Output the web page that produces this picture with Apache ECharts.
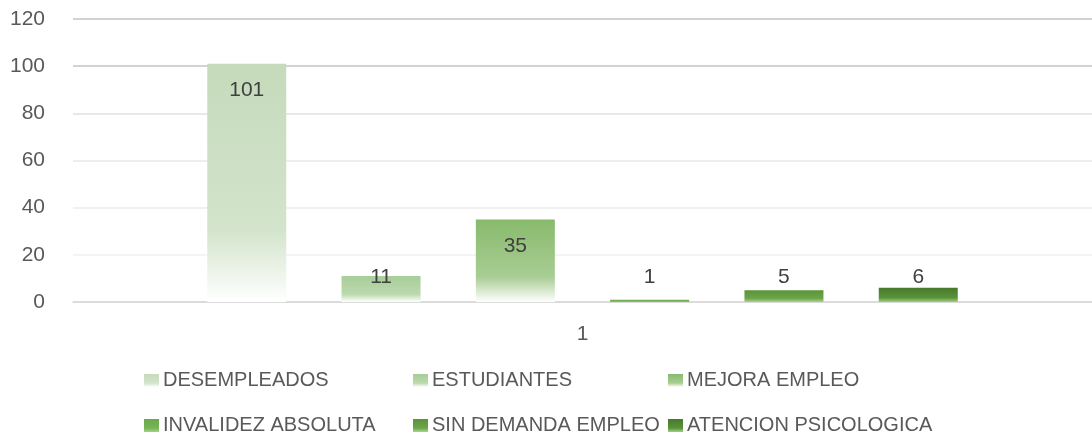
<!DOCTYPE html>
<html>
<head>
<meta charset="UTF-8">
<title></title>
<script src="https://cdn.jsdelivr.net/npm/echarts@6/dist/echarts.min.js"></script>
<style type="text/css">
	html, body { margin: 0; padding: 0; background: #fff; }
	#chart { width: 1092px; height: 434px; }
</style>
</head>
<body>
<div id="chart"></div>
<script type="text/javascript">
var categories = ['1'];
var seriesNames = ['DESEMPLEADOS', 'ESTUDIANTES', 'MEJORA EMPLEO', 'INVALIDEZ ABSOLUTA', 'SIN DEMANDA EMPLEO', 'ATENCION PSICOLOGICA'];
var seriesValues = [101, 11, 35, 1, 5, 6];
var yTicks = [0, 20, 40, 60, 80, 100, 120];

// gradient colours, top -> bottom
var fills = [
	['#c5dbbb', '#d3e4cc', '#ffffff'],
	['#a7cd98', '#bbd9ad', '#ffffff'],
	['#88ba6c', '#a9cd94', '#ffffff'],
	['#6aa84a', '#78b457', '#a2d48a'],
	['#5a9438', '#6ea44a', '#a6d78c'],
	['#477a2c', '#5a9239', '#9fd283']
];
var gridColors = ['#d9d9d9', '#f0f0f0', '#ededed', '#e9e9e9', '#e1e1e1', '#c3c3c3', '#c3c3c3'];
var font = 'Liberation Sans, Arial, sans-serif';

function grad(c) {
	return new echarts.graphic.LinearGradient(0, 0, 0, 1, [
		{ offset: 0, color: c[0] },
		{ offset: 0.7, color: c[1] },
		{ offset: 1, color: c[2] }
	]);
}

var series = [];
for (var i = 0; i < seriesNames.length; i++) {
	var v = seriesValues[i];
	series.push({
		name: seriesNames[i],
		type: 'bar',
		barWidth: 79,
		barGap: '70%',
		itemStyle: { color: grad(fills[i]) },
		label: {
			show: true,
			position: v >= 20 ? 'insideTop' : 'insideBottom',
			distance: v >= 20 ? 16 : 14,
			fontFamily: font,
			fontSize: 21,
			color: '#404040'
		},
		data: [v]
	});
}

var legendCols = [[0, 3], [1, 4], [2, 5]];
var legendLeft = [144, 413, 668];
var legends = legendCols.map(function (col, k) {
	return {
		orient: 'vertical',
		left: legendLeft[k],
		top: 370,
		height: 90,
		itemWidth: 15,
		itemHeight: 13,
		itemGap: 24,
		padding: 0,
		icon: 'rect',
		data: col.map(function (j) { return seriesNames[j]; }),
		textStyle: { fontFamily: font, fontSize: 20, lineHeight: 21, color: '#595959', padding: [0, 0, 0, -1] },
		selectedMode: false
	};
});

var chart = echarts.init(document.getElementById('chart'));
chart.setOption({
	animation: false,
	grid: { left: 73, right: 0, top: 19, bottom: 132 },
	legend: legends,
	xAxis: {
		type: 'category',
		data: categories,
		axisLine: { lineStyle: { color: '#d9d9d9', width: 1.5 } },
		axisTick: { show: false },
		axisLabel: { fontFamily: font, fontSize: 21, color: '#595959', margin: 22 }
	},
	yAxis: {
		type: 'value',
		min: yTicks[0],
		max: yTicks[yTicks.length - 1],
		interval: 20,
		axisLine: { show: false },
		axisTick: { show: false },
		axisLabel: { fontFamily: font, fontSize: 21, color: '#595959', margin: 28 },
		splitLine: { lineStyle: { color: gridColors, width: 1.5 } }
	},
	series: series
});
</script>
</body>
</html>
